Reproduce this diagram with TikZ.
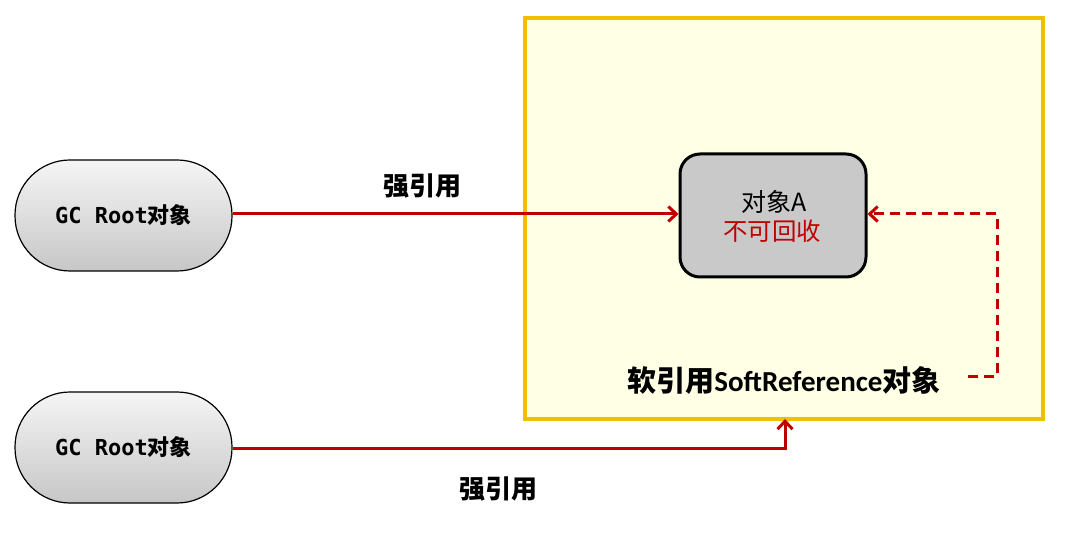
\documentclass[tikz,border=0pt]{standalone}
\usepackage{fontspec}
\setmainfont{Carlito}
\newfontfamily\cjk{Noto Sans CJK SC}
\newfontfamily\monof{DejaVu Sans Mono}
\usetikzlibrary{arrows.meta,positioning}
\definecolor{arrred}{HTML}{C00000}
\definecolor{boxfill}{HTML}{FFFFE6}
\definecolor{boxline}{HTML}{F2BF00}
\definecolor{objgray}{HTML}{C9C9C9}
\tikzset{
  gcroot/.style={draw=black, line width=1.2pt, rounded corners=55pt, minimum width=217pt, minimum height=111pt,
     top color=white!96!black, bottom color=black!22, inner sep=0pt, font=\fontsize{22}{26}\selectfont},
  objbox/.style={draw=black, line width=3pt, rounded corners=20pt, fill=objgray, minimum width=186pt, minimum height=123pt, align=center},
  strong/.style={draw=arrred, line width=3pt, -{Straight Barb[length=8pt,width=15pt,line width=3pt]}},
  soft/.style={draw=arrred, line width=3pt, dash pattern=on 10pt off 6pt, -{Straight Barb[length=8pt,width=15pt,line width=3pt]}},
  lbl/.style={font=\cjk\bfseries\fontsize{26}{30}\selectfont, inner sep=0pt},
}
\begin{document}
\begin{tikzpicture}[x=1pt,y=-1pt]
\useasboundingbox (0,0) rectangle (1065,534);
\fill[white] (0,0) rectangle (1065,534);
% soft reference container
\draw[draw=boxline, fill=boxfill, line width=4.5pt] (525,18) rectangle (1043,419);
\coordinate (boxbottom) at (785,419);
\node[font=\fontsize{29}{33}\selectfont, inner sep=0pt] (softlbl) at (784,380) {{\cjk\bfseries 软引用}\textbf{SoftReference}{\cjk\bfseries 对象}};
% object A
\node[objbox] (objA) at (773,215.5) {};
\node[font=\cjk\fontsize{25}{29}\selectfont, inner sep=0pt] (objAtxt) at (774,202) {对象A};
\node[font=\cjk\fontsize{24.5}{29}\selectfont, text=arrred, inner sep=0pt] (objAsub) at (772,231) {不可回收};
% GC roots
\node[gcroot] (gc1) at (123.5,215.5) {\textbf{\monof GC Root}{\cjk\bfseries 对象}};
\node[gcroot] (gc2) at (123.5,447.5) {\textbf{\monof GC Root}{\cjk\bfseries 对象}};
% arrows
\draw[strong] (gc1.east |- 0,214) -- (objA.west |- 0,214);
\node[lbl] (l1) at (422,186) {强引用};
\draw[strong] (gc2.east |- 0,448) -| (boxbottom);
\node[lbl] (l2) at (498,489) {强引用};
\coordinate (softstart) at (968,376);
\draw[soft] (softstart) -- (997,376) -- (997,214) -- (objA.east |- 0,214);
\end{tikzpicture}
\end{document}
